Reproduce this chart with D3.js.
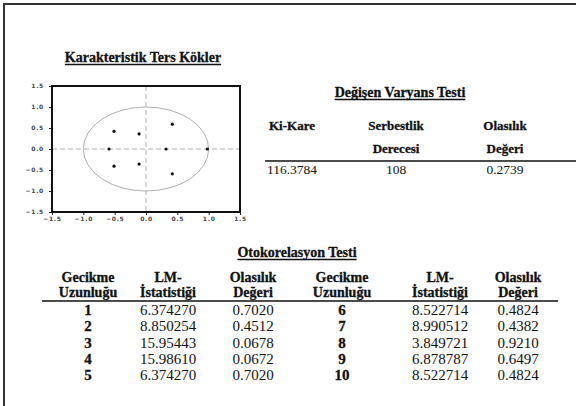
<!DOCTYPE html>
<html>
<head>
<meta charset="UTF-8">
<title>Karakteristik Ters Kökler</title>
<script src="https://cdn.jsdelivr.net/npm/d3@7"></script>
<style>
body { margin: 0; background: #fff; }
text { font-family: "Liberation Serif", "Times New Roman", serif; fill: #111; }
.tick-lbl { font-family: "DejaVu Sans", sans-serif; font-size: 6px; fill: #444; letter-spacing: 0.7px; font-weight: bold; }
</style>
</head>
<body>
<div id="chart"></div>
<script>
// characteristic inverse roots (real / imaginary parts)
var rootRe = [-0.51, -0.51, -0.11, -0.11, 0.42, 0.42, -0.59, 0.32, 0.98];
var rootIm = [0.42, -0.41, 0.36, -0.36, 0.59, -0.59, 0.0, 0.0, 0.0];
var axisTicks = [-1.5, -1.0, -0.5, 0.0, 0.5, 1.0, 1.5];

// heteroskedasticity test
var hetHead1 = ['Ki-Kare', 'Serbestlik', 'Olasılık'];
var hetHead2 = ['', 'Derecesi', 'Değeri'];
var hetValues = ['116.3784', '108', '0.2739'];

// autocorrelation LM test
var lags = [1, 2, 3, 4, 5, 6, 7, 8, 9, 10];
var lmStats = ['6.374270', '8.850254', '15.95443', '15.98610', '6.374270',
               '8.522714', '8.990512', '3.849721', '6.878787', '8.522714'];
var pValues = ['0.7020', '0.4512', '0.0678', '0.0672', '0.7020',
               '0.4824', '0.4382', '0.9210', '0.6497', '0.4824'];
var acHead1 = ['Gecikme', 'LM-', 'Olasılık'];
var acHead2 = ['Uzunluğu', 'İstatistiği', 'Değeri'];

var W = 576, H = 406;
var svg = d3.select('#chart').append('svg')
    .attr('width', W).attr('height', H);

// page frame (left + top)
svg.append('path')
    .attr('d', 'M4,406 L4,4 L576,4')
    .attr('fill', 'none').attr('stroke', '#333').attr('stroke-width', 2);

function title(txt, cx, y) {
    var t = svg.append('text')
        .attr('x', cx).attr('y', y)
        .attr('text-anchor', 'middle')
        .attr('font-size', 14).attr('font-weight', 'bold')
        .attr('stroke', '#111').attr('stroke-width', 0.3)
        .text(txt);
    var w = t.node().getComputedTextLength();
    svg.append('line')
        .attr('x1', cx - w / 2).attr('x2', cx + w / 2)
        .attr('y1', y + 2.5).attr('y2', y + 2.5)
        .attr('stroke', '#111').attr('stroke-width', 1.4);
}

// ---------- roots plot ----------
title('Karakteristik Ters Kökler', 143, 62);

var xScale = d3.scaleLinear().domain([-1.5, 1.5]).range([52, 240]);
var yScale = d3.scaleLinear().domain([-1.5, 1.5]).range([212, 86]);

var plot = svg.append('g');

plot.append('ellipse')
    .attr('cx', xScale(0)).attr('cy', yScale(0))
    .attr('rx', xScale(1) - xScale(0)).attr('ry', yScale(0) - yScale(1))
    .attr('fill', 'none').attr('stroke', '#b0b0b0').attr('stroke-width', 1);

plot.append('line')
    .attr('x1', xScale(0)).attr('x2', xScale(0))
    .attr('y1', yScale(1.5)).attr('y2', yScale(-1.5))
    .attr('stroke', '#b0b0b0').attr('stroke-dasharray', '5,3');
plot.append('line')
    .attr('x1', xScale(-1.5)).attr('x2', xScale(1.5))
    .attr('y1', yScale(0)).attr('y2', yScale(0))
    .attr('stroke', '#b0b0b0').attr('stroke-dasharray', '5,3');

plot.selectAll('circle.root')
    .data(rootRe)
    .enter().append('circle')
    .attr('class', 'root')
    .attr('cx', function(d) { return xScale(d); })
    .attr('cy', function(d, i) { return yScale(rootIm[i]); })
    .attr('r', 1.6)
    .attr('fill', '#111');

var xAxis = d3.axisBottom(xScale).tickValues(axisTicks).tickSize(3).tickFormat(d3.format('.1f'));
var yAxis = d3.axisLeft(yScale).tickValues(axisTicks).tickSize(3).tickFormat(d3.format('.1f'));

var gx = plot.append('g').attr('transform', 'translate(0,212)').call(xAxis);
var gy = plot.append('g').attr('transform', 'translate(52,0)').call(yAxis);
[gx, gy].forEach(function(g) {
    g.select('.domain').remove();
    g.selectAll('line').attr('stroke', '#222');
    g.selectAll('text').attr('class', 'tick-lbl').attr('font-size', null).attr('font-family', null);
});
gx.selectAll('text').attr('y', 5).attr('dy', '0.6em');
gy.selectAll('text').attr('dx', '-2');

plot.append('rect')
    .attr('x', 52).attr('y', 86)
    .attr('width', 188).attr('height', 126)
    .attr('fill', 'none').attr('stroke', '#111').attr('stroke-width', 2);

// ---------- heteroskedasticity table ----------
title('Değişen Varyans Testi', 400, 97);
var hetCols = [292, 396, 505];
svg.selectAll('text.hh1').data(hetHead1).enter().append('text')
    .attr('x', function(d, i) { return hetCols[i]; }).attr('y', 129.5)
    .attr('text-anchor', 'middle').attr('font-size', 13).attr('font-weight', 'bold')
    .attr('stroke', '#111').attr('stroke-width', 0.3)
    .text(function(d) { return d; });
svg.selectAll('text.hh2').data(hetHead2).enter().append('text')
    .attr('x', function(d, i) { return hetCols[i]; }).attr('y', 152.5)
    .attr('text-anchor', 'middle').attr('font-size', 13).attr('font-weight', 'bold')
    .attr('stroke', '#111').attr('stroke-width', 0.3)
    .text(function(d) { return d; });
svg.append('line')
    .attr('x1', 265).attr('x2', 576).attr('y1', 161).attr('y2', 161)
    .attr('stroke', '#111').attr('stroke-width', 1.6);
svg.selectAll('text.hv').data(hetValues).enter().append('text')
    .attr('x', function(d, i) { return hetCols[i]; }).attr('y', 174)
    .attr('text-anchor', 'middle').attr('font-size', 13.5)
    .text(function(d) { return d; });

// ---------- autocorrelation table ----------
title('Otokorelasyon Testi', 297, 257);
var acCols = [88, 168, 253, 342, 440, 518];
var acHeadAll = acHead1.concat(acHead1);
var acHeadAll2 = acHead2.concat(acHead2);
svg.selectAll('text.ah1').data(acHeadAll).enter().append('text')
    .attr('x', function(d, i) { return acCols[i]; }).attr('y', 282)
    .attr('text-anchor', 'middle').attr('font-size', 14).attr('font-weight', 'bold')
    .attr('stroke', '#111').attr('stroke-width', 0.3)
    .text(function(d) { return d; });
svg.selectAll('text.ah2').data(acHeadAll2).enter().append('text')
    .attr('x', function(d, i) { return acCols[i]; }).attr('y', 297)
    .attr('text-anchor', 'middle').attr('font-size', 14).attr('font-weight', 'bold')
    .attr('stroke', '#111').attr('stroke-width', 0.3)
    .text(function(d) { return d; });
svg.append('line')
    .attr('x1', 42).attr('x2', 558).attr('y1', 301).attr('y2', 301)
    .attr('stroke', '#111').attr('stroke-width', 1.6);

var rowY = d3.scaleLinear().domain([0, 4]).range([315, 380]);
var rows = svg.selectAll('g.row').data(lags).enter().append('g').attr('class', 'row')
    .attr('transform', function(d, i) {
        return 'translate(' + (i < 5 ? 0 : 254) + ',' + rowY(i % 5) + ')';
    });
rows.append('text')
    .attr('x', function(d, i) { return i < 5 ? acCols[0] : acCols[3] - 254; })
    .attr('text-anchor', 'middle').attr('font-size', 15).attr('font-weight', 'bold')
    .attr('stroke', '#111').attr('stroke-width', 0.3)
    .text(function(d) { return d; });
rows.append('text')
    .attr('x', function(d, i) { return i < 5 ? acCols[1] : acCols[4] - 254; })
    .attr('text-anchor', 'middle').attr('font-size', 15)
    .text(function(d, i) { return lmStats[i]; });
rows.append('text')
    .attr('x', function(d, i) { return i < 5 ? acCols[2] : acCols[5] - 254; })
    .attr('text-anchor', 'middle').attr('font-size', 15)
    .text(function(d, i) { return pValues[i]; });
</script>
</body>
</html>
